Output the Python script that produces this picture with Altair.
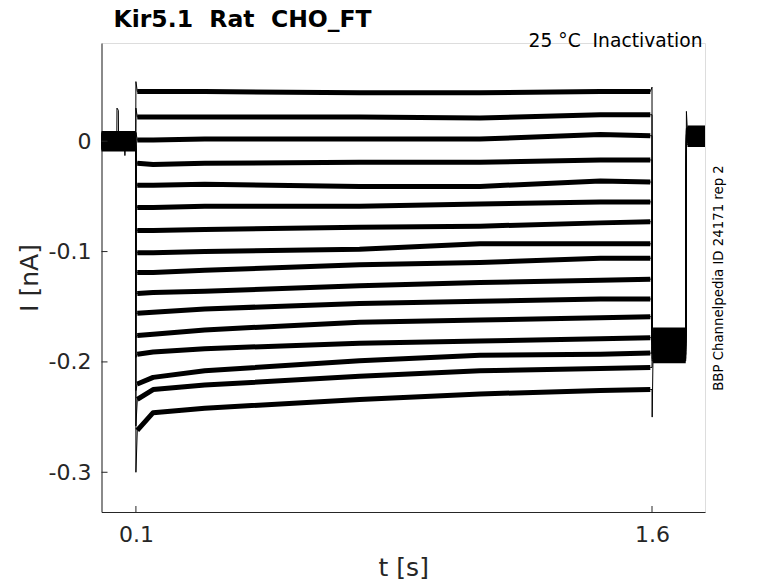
import altair as alt
import pandas as pd

# ---------------- data ----------------
TITLE = "Kir5.1\u00a0 Rat\u00a0 CHO_FT"
SUBTITLE = "25 °C\u00a0 Inactivation"
SIDE_NOTE = "BBP Channelpedia ID 24171 rep 2"

XTICKS = [0.1, 1.6]
YTICKS = [-0.3, -0.2, -0.1, 0.0]

# holding current before the step (nA), t = 0 .. 0.1 s
PRE = [0.004, -0.002, 0.006, -0.005, 0.001, -0.007, 0.003, -0.003,
       0.007, -0.001, 0.002, -0.006, 0.005, -0.004, 0.000, -0.002]

# short artefact in the holding period (trace 1 spike, trace 2 dip)
SPIKE_T = [0.0445, 0.045, 0.049, 0.0495]
SPIKE_I = [0.004, 0.030, 0.028, 0.004]
DIP_T = [0.066, 0.068, 0.070]
DIP_I = [-0.002, -0.013, -0.002]

# value right at the step onset (t = 0.1 s) and just after (t = 0.104 s)
ONSET = [0.054, 0.030, 0.008, -0.016, -0.036, -0.057, -0.078, -0.099,
         -0.118, -0.138, -0.156, -0.178, -0.196, -0.226, -0.258, -0.300]
EARLY = [0.045, 0.022, 0.001, -0.020, -0.040, -0.060, -0.081, -0.101,
         -0.119, -0.138, -0.156, -0.176, -0.193, -0.220, -0.234, -0.262]

# step current level of each sweep at these times
T_LEVEL = [0.15, 0.3, 0.75, 1.1, 1.45, 1.595]
LEVELS = [
    [0.045, 0.045, 0.044, 0.044, 0.045, 0.045],
    [0.022, 0.022, 0.022, 0.021, 0.024, 0.024],
    [0.001, 0.002, 0.002, 0.002, 0.006, 0.005],
    [-0.021, -0.020, -0.019, -0.019, -0.017, -0.017],
    [-0.040, -0.039, -0.041, -0.041, -0.036, -0.037],
    [-0.060, -0.059, -0.059, -0.057, -0.055, -0.055],
    [-0.081, -0.080, -0.078, -0.077, -0.074, -0.073],
    [-0.101, -0.100, -0.098, -0.093, -0.093, -0.093],
    [-0.119, -0.117, -0.112, -0.110, -0.106, -0.106],
    [-0.137, -0.136, -0.131, -0.128, -0.126, -0.125],
    [-0.155, -0.152, -0.147, -0.145, -0.143, -0.143],
    [-0.175, -0.171, -0.164, -0.162, -0.160, -0.159],
    [-0.191, -0.188, -0.183, -0.181, -0.179, -0.178],
    [-0.214, -0.208, -0.199, -0.194, -0.193, -0.192],
    [-0.225, -0.221, -0.213, -0.208, -0.206, -0.205],
    [-0.246, -0.242, -0.234, -0.229, -0.226, -0.225],
]

# value at the end of the step (t = 1.6 s)
END_PEAK = [0.049, 0.024, 0.005, -0.017, -0.037, -0.055, -0.073, -0.093,
            -0.106, -0.125, -0.143, -0.159, -0.178, -0.192, -0.205, -0.225]
# tail after the step (t = 1.6 .. 1.7 s)
TAIL_PEAK = [-0.176, -0.183, -0.171, -0.188, -0.180, -0.193, -0.174, -0.185,
             -0.197, -0.178, -0.190, -0.182, -0.199, -0.186, -0.177, -0.250]
TAIL = [-0.176, -0.183, -0.171, -0.188, -0.180, -0.193, -0.174, -0.185,
        -0.197, -0.178, -0.190, -0.182, -0.199, -0.186, -0.177, -0.194]
# back at holding (t = 1.7 .. 1.754 s)
POST_PEAK = [0.027, 0.002, 0.011, -0.001, 0.006, 0.004, 0.012, 0.000,
             0.009, 0.003, 0.007, -0.003, 0.010, 0.005, 0.001, 0.006]
POST = [0.008, 0.002, 0.011, -0.001, 0.006, 0.004, 0.012, 0.000,
        0.009, 0.003, 0.007, -0.003, 0.010, 0.005, 0.001, 0.006]

T_START, T_PRE_END, T_ON, T_EARLY = 0.0, 0.0995, 0.1, 0.104
T_OFF, T_TAIL_PEAK, T_TAIL0, T_TAIL1 = 1.6, 1.6005, 1.603, 1.698
T_BACK, T_POST0, T_END = 1.7, 1.703, 1.754

# ---------------- table ----------------
rows = []
for k in range(len(PRE)):
    tr = k + 1

    def add(t, v, seg, steady):
        rows.append({"trace": tr, "seg": f"{tr}-{seg}", "t": t, "i": v,
                     "steady": steady})

    add(T_START, PRE[k], "pre", True)
    if k == 0:
        for t, v in zip(SPIKE_T, SPIKE_I):
            add(t, v, "spike", False)
    if k == 1:
        for t, v in zip(DIP_T, DIP_I):
            add(t, v, "dip", False)
    add(T_PRE_END, PRE[k], "pre", True)
    add(T_ON, ONSET[k], "on", False)
    add(T_EARLY, EARLY[k], "pulse", True)
    for t, v in zip(T_LEVEL, LEVELS[k]):
        add(t, v, "pulse", True)
    add(T_OFF, END_PEAK[k], "off", False)
    add(T_TAIL_PEAK, TAIL_PEAK[k], "tp", False)
    add(T_TAIL0, TAIL[k], "tail", True)
    add(T_TAIL1, TAIL[k], "tail", True)
    add(T_BACK, POST_PEAK[k], "back", False)
    add(T_POST0, POST[k], "post", True)
    add(T_END, POST[k], "post", True)

df = pd.DataFrame(rows)

W, H = 603.5, 469
INK = "#262626"
FONT = "DejaVu Sans"

xscale = alt.Scale(domain=[0, 1.754], nice=False, zero=False)
yscale = alt.Scale(domain=[-0.336, 0.089], nice=False, zero=False)

xaxis = alt.Axis(values=XTICKS, title="t [s]", grid=False, ticks=False, tickSize=0,
                 domainColor=INK, domainWidth=1, labelFont=FONT, labelFontSize=22,
                 labelColor=INK, labelBaseline="alphabetic", labelPadding=29.5,
                 titleFont=FONT, titleFontSize=25, titleFontWeight="normal",
                 titleColor=INK, titleBaseline="alphabetic", titleX=W / 2, titleY=63,
                 titleAlign="center")
yaxis = alt.Axis(values=YTICKS, title="I [nA]", grid=False, ticks=False, tickSize=0,
                 domainColor=INK, domainWidth=1, labelFont=FONT, labelFontSize=22,
                 labelColor=INK, labelBaseline="middle", labelPadding=10.5,
                 labelExpr="datum.value == 0 ? '0' : '-' + format(abs(datum.value), '.1f')",
                 titleFont=FONT, titleFontSize=25, titleFontWeight="normal",
                 titleColor=INK, titleAngle=270, titleBaseline="alphabetic",
                 titleAlign="center", titleX=-64.5, titleY=234.5)

thick = alt.Chart(df).transform_filter("datum.steady").mark_line(
    color="black", strokeWidth=5, strokeJoin="round"
).encode(
    x=alt.X("t:Q", scale=xscale, axis=xaxis),
    y=alt.Y("i:Q", scale=yscale, axis=yaxis),
    detail="seg:N",
    order="t:Q",
)

thin = alt.Chart(df).mark_line(color="black", strokeWidth=1).encode(
    x="t:Q", y="i:Q", detail="trace:N", order="t:Q"
)

xt = alt.Chart(pd.DataFrame({"t": XTICKS})).mark_rule(color=INK, strokeWidth=1).encode(
    x="t:Q", y=alt.value(H), y2=alt.value(H - 6)
)
yt = alt.Chart(pd.DataFrame({"i": YTICKS})).mark_rule(color=INK, strokeWidth=1).encode(
    y="i:Q", x=alt.value(0), x2=alt.value(6)
)

ttl = alt.Chart(pd.DataFrame({"label": [TITLE]})).mark_text(
    font=FONT, fontSize=23.5, fontWeight="bold", color="black", align="left",
    baseline="alphabetic"
).encode(text="label:N", x=alt.value(12), y=alt.value(-16.3))

sub = alt.Chart(pd.DataFrame({"label": [SUBTITLE]})).mark_text(
    font=FONT, fontSize=18.7, color="black", align="right", baseline="alphabetic"
).encode(text="label:N", x=alt.value(601), y=alt.value(4))

side = alt.Chart(pd.DataFrame({"label": [SIDE_NOTE]})).mark_text(
    font=FONT, fontSize=13.3, color="black", align="center", baseline="alphabetic",
    angle=270
).encode(text="label:N", x=alt.value(621.5), y=alt.value(235))

chart = alt.layer(thick, thin, xt, yt, ttl, sub, side).properties(
    width=W, height=H,
    autosize=alt.AutoSizeParams(type="none"),
    padding={"left": 93.5, "top": 35, "right": 60, "bottom": 72},
).configure_view(stroke=None).configure(background="white")

chart.save("out.html", embed_options={"renderer": "svg", "actions": False})
